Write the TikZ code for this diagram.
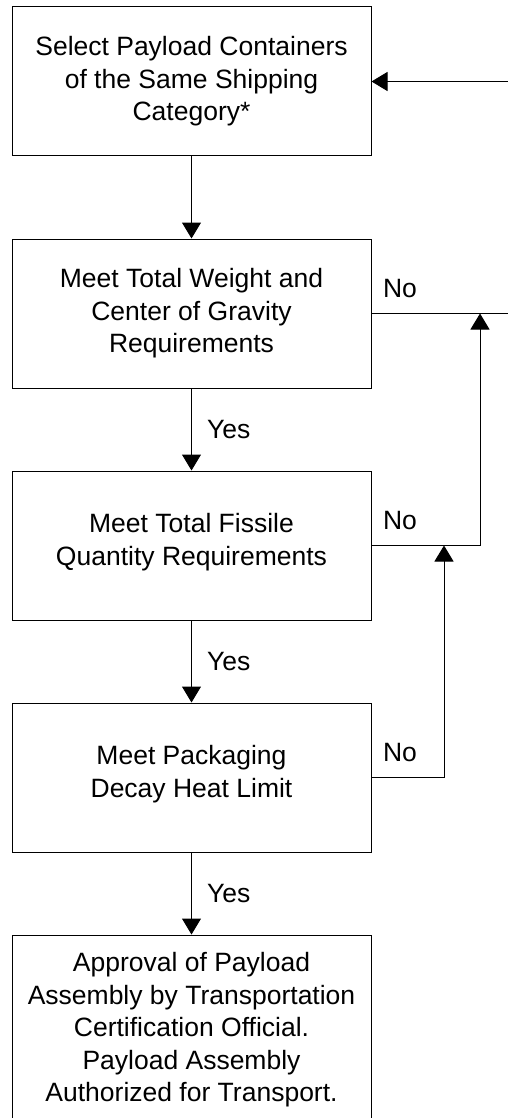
\documentclass[tikz,border=0pt]{standalone}
\usepackage{fontspec}
\setmainfont{Liberation Sans}
\usepackage{tikz}
\usetikzlibrary{positioning,calc,arrows.meta}

\begin{document}
\begin{tikzpicture}[node distance=82pt, line width=1pt,
    stage/.style={rectangle, draw, minimum width=359pt, minimum height=149pt, align=center, font=\fontsize{26.5}{32.5}\selectfont},
    arr/.style={-{Triangle[width=19pt,length=16pt]}},
    answer/.style={inner sep=0pt, font=\fontsize{26.5}{32.5}\selectfont}]
    \useasboundingbox (0pt,0pt) rectangle (507pt,-1118pt);

    \node [stage] (select) at (191.5pt,-81.5pt) {Select Payload Containers\\of the Same Shipping\\Category*};
    \node [stage, below=of select] (weight) {Meet Total Weight and\\Center of Gravity\\Requirements};
    \node [stage, below=of weight] (fissile) {Meet Total Fissile\\Quantity Requirements\\[-20.5pt]};
    \node [stage, below=of fissile] (decay) {Meet Packaging\\Decay Heat Limit\\[-20.5pt]};
    \node [stage, below=of decay, minimum height=196pt] (approve) {Approval of Payload\\Assembly by Transportation\\Certification Official.\\Payload Assembly\\Authorized for Transport.\\[-20.5pt]};

    \coordinate (edge) at (520pt,0pt);
    \coordinate (upper) at (480pt,0pt);
    \coordinate (lower) at (444pt,0pt);

    % main flow
    \draw [arr] (select) -- (weight);
    \draw [arr] (weight) -- node [answer, anchor=west, xshift=15pt] {Yes} (fissile);
    \draw [arr] (fissile) -- node [answer, anchor=west, xshift=15pt] {Yes} (decay);
    \draw [arr] (decay) -- node [answer, anchor=west, xshift=15pt] {Yes} (approve);

    % return loops
    \draw [arr] (edge |- select.east) -- (select.east);
    \draw (weight.east) -- node [answer, pos=0, anchor=base west, xshift=11pt, yshift=16pt] {No} (edge |- weight.east);
    \draw [arr] (fissile.east) -- node [answer, pos=0, anchor=base west, xshift=11pt, yshift=16pt] {No} (upper |- fissile.east) -- (upper |- weight.east);
    \draw [arr] (decay.east) -- node [answer, pos=0, anchor=base west, xshift=11pt, yshift=16pt] {No} (lower |- decay.east) -- (lower |- fissile.east);
\end{tikzpicture}
\end{document}
